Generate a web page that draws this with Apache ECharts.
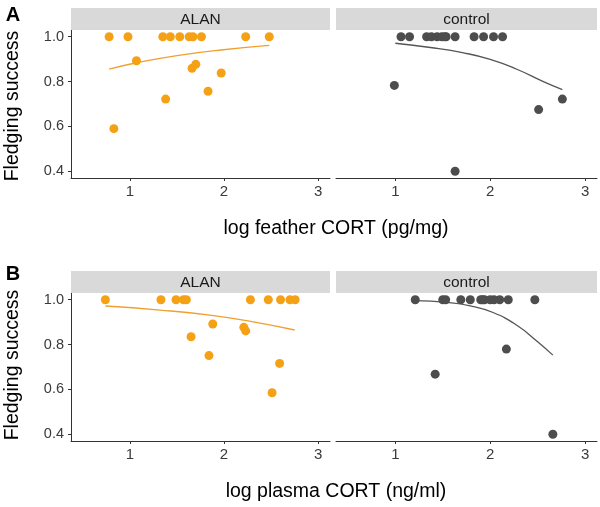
<!DOCTYPE html>
<html><head><meta charset="utf-8">
<script src="https://cdn.jsdelivr.net/npm/echarts@6/dist/echarts.min.js"></script>
<style>html,body{margin:0;padding:0;background:#fff}#c{width:600px;height:507px}</style>
</head><body><div id="c"></div>
<script>
// Panel labels / text
const facetLabels = ['ALAN', 'control'];
const xTitles = ['log feather CORT (pg/mg)', 'log plasma CORT (ng/ml)'];
const yTitle = 'Fledging success';
const xTicks = [1, 2, 3];
const yTicks = [0.4, 0.6, 0.8, 1.0];

// A: feather CORT, ALAN
const featherAlanX = [0.78, 0.98, 1.35, 1.43, 1.53, 1.63, 1.67, 1.76, 2.23, 2.48, 1.07, 1.66, 1.70, 1.97, 1.38, 1.83, 0.83];
const featherAlanY = [1, 1, 1, 1, 1, 1, 1, 1, 1, 1, 0.893, 0.859, 0.877, 0.838, 0.722, 0.757, 0.59];
const fitFeatherAlanX = [0.78, 1.07, 1.50, 1.99, 2.48];
const fitFeatherAlanY = [0.855, 0.884, 0.916, 0.942, 0.961];

// A: feather CORT, control
const featherCtrlX = [1.06, 1.15, 1.33, 1.38, 1.44, 1.49, 1.535, 1.63, 1.83, 1.93, 2.035, 2.13, 1.52, 0.99, 2.51, 2.76, 1.63];
const featherCtrlY = [1, 1, 1, 1, 1, 1, 1, 1, 1, 1, 1, 1, 1, 0.783, 0.675, 0.722, 0.40];
const fitFeatherCtrlX = [1.0, 1.37, 1.72, 2.0, 2.28, 2.56, 2.76];
const fitFeatherCtrlY = [0.971, 0.952, 0.928, 0.899, 0.855, 0.80, 0.764];

// B: plasma CORT, ALAN
const plasmaAlanX = [0.74, 1.33, 1.49, 1.57, 1.60, 2.28, 2.47, 2.60, 2.70, 2.755, 1.88, 2.21, 2.23, 1.65, 1.84, 2.59, 2.51];
const plasmaAlanY = [1, 1, 1, 1, 1, 1, 1, 1, 1, 1, 0.892, 0.877, 0.861, 0.835, 0.751, 0.716, 0.585];
const fitPlasmaAlanX = [0.74, 1.32, 1.85, 2.31, 2.75];
const fitPlasmaAlanY = [0.972, 0.954, 0.931, 0.901, 0.865];

// B: plasma CORT, control
const plasmaCtrlX = [1.21, 1.50, 1.53, 1.69, 1.79, 1.92, 1.94, 2.04, 2.10, 2.19, 2.47, 1.90, 2.00, 2.17, 1.42, 2.66];
const plasmaCtrlY = [1, 1, 1, 1, 1, 1, 1, 1, 1, 1, 1, 1, 1, 0.78, 0.668, 0.40];
const fitPlasmaCtrlX = [1.21, 1.54, 1.79, 2.03, 2.28, 2.49, 2.66];
const fitPlasmaCtrlY = [0.996, 0.988, 0.973, 0.943, 0.886, 0.816, 0.753];

const ORANGE = '#F5A116', GREY = '#4D4D4D';
const pairs = (xs, ys) => xs.map((x, i) => [x, ys[i]]);

const grids = [
  {left: 71, top: 30, width: 259, height: 148},
  {left: 336, top: 30, width: 261, height: 148},
  {left: 71, top: 293, width: 259, height: 148},
  {left: 336, top: 293, width: 261, height: 148}
];
const font = 'Liberation Sans, Arial, sans-serif';

const xAxes = grids.map((g, i) => ({
  type: 'value', gridIndex: i, min: 0.375, max: 3.125,
  splitLine: {show: false},
  axisLine: {show: true, onZero: false, lineStyle: {color: '#333', width: 1}},
  axisTick: {show: true, length: 3, lineStyle: {color: '#333'}, customValues: xTicks},
  axisLabel: {customValues: xTicks, color: '#3a3a3a', fontSize: 15, fontFamily: font, margin: 6}
}));
const yAxes = grids.map((g, i) => ({
  type: 'value', gridIndex: i, min: 0.37, max: 1.03,
  splitLine: {show: false},
  axisLine: {show: i % 2 === 0, onZero: false, lineStyle: {color: '#333', width: 1}},
  axisTick: {show: i % 2 === 0, length: 3, lineStyle: {color: '#333'}, customValues: yTicks},
  axisLabel: {show: i % 2 === 0, customValues: yTicks, color: '#3a3a3a', fontSize: 14.5, fontFamily: font, margin: 7,
    formatter: v => v.toFixed(1)}
}));

const panels = [
  [featherAlanX, featherAlanY, fitFeatherAlanX, fitFeatherAlanY, ORANGE, '#F0A030'],
  [featherCtrlX, featherCtrlY, fitFeatherCtrlX, fitFeatherCtrlY, GREY, '#555'],
  [plasmaAlanX, plasmaAlanY, fitPlasmaAlanX, fitPlasmaAlanY, ORANGE, '#F0A030'],
  [plasmaCtrlX, plasmaCtrlY, fitPlasmaCtrlX, fitPlasmaCtrlY, GREY, '#555']
];
const series = [];
panels.forEach((p, i) => {
  series.push({type: 'line', xAxisIndex: i, yAxisIndex: i, data: pairs(p[2], p[3]), smooth: true,
    showSymbol: false, lineStyle: {color: p[5], width: 1.3}, z: 2, silent: true});
  series.push({type: 'scatter', xAxisIndex: i, yAxisIndex: i, data: pairs(p[0], p[1]),
    symbolSize: 9, itemStyle: {color: p[4], opacity: 1}, z: 3});
});

const graphic = [];
grids.forEach((g, i) => {
  graphic.push({type: 'rect', left: g.left, top: g.top - 22, shape: {width: g.width, height: 22},
    style: {fill: '#D9D9D9'}, z: 1});
  graphic.push({type: 'text', x: g.left + g.width / 2, y: g.top - 10.5,
    style: {text: facetLabels[i % 2], font: '15.5px ' + font, fill: '#1A1A1A', align: 'center', verticalAlign: 'middle'}, z: 2});
});
[[106, 'A', 15, 229, 0], [365, 'B', 274, 492, 1]].forEach(([cy, lab, ly, ty, k]) => {
  graphic.push({type: 'text', x: 13, y: cy, rotation: Math.PI / 2,
    style: {text: yTitle, font: '19.5px ' + font, fill: '#000', align: 'center', verticalAlign: 'middle'}});
  graphic.push({type: 'text', x: 13, y: ly,
    style: {text: lab, font: 'bold 20px ' + font, fill: '#000', align: 'center', verticalAlign: 'middle'}});
  graphic.push({type: 'text', x: 336, y: ty,
    style: {text: xTitles[k], font: '19.5px ' + font, fill: '#000', align: 'center', verticalAlign: 'middle'}});
});

const chart = echarts.init(document.getElementById('c'), null, {renderer: 'canvas'});
chart.setOption({
  animation: false, backgroundColor: '#fff',
  grid: grids, xAxis: xAxes, yAxis: yAxes, series, graphic
});
</script></body></html>
